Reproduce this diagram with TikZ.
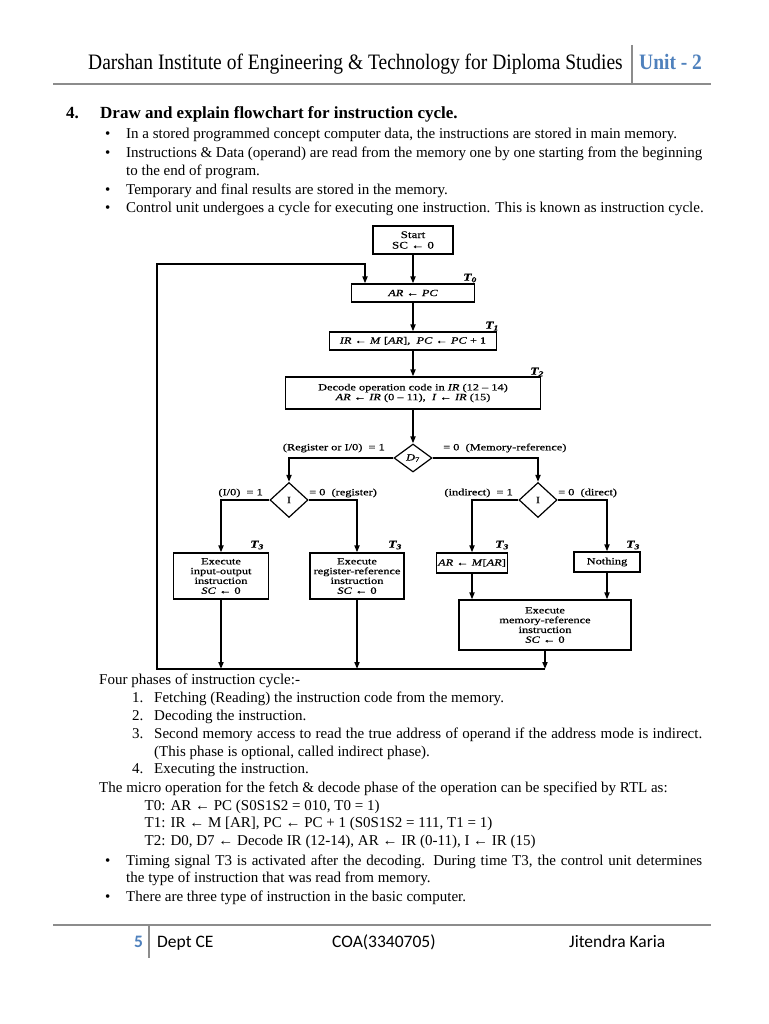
\documentclass[tikz,border=0pt]{standalone}
\usepackage{fontspec}
\setmainfont{Liberation Serif}
\newfontfamily\hdrfont[FakeStretch=0.886]{Liberation Serif}
\newfontfamily\ftrfont{Carlito}
\newfontfamily\figfont[FakeStretch=1.3,FakeBold=0.6]{Liberation Serif}
\usetikzlibrary{arrows.meta,shapes.geometric}
\definecolor{unitblue}{HTML}{4F81BD}
\definecolor{rulegray}{HTML}{8C8C8C}
\begin{document}
\begin{tikzpicture}[x=1pt,y=-1pt,
  body/.style={anchor=base west,inner sep=0,font=\fontsize{15}{18}\selectfont},
  fbox/.style={draw,line width=1.2pt,inner sep=0,align=center,font=\figfont\fontsize{9.5}{9.8}\selectfont},
  dia/.style={draw,diamond,line width=1.2pt,inner sep=0,font=\figfont\fontsize{9.5}{10}\selectfont},
  arr/.style={line width=1.7pt,-{Triangle[length=7pt,width=5pt]}},
  tlab/.style={font=\figfont\fontsize{10.5}{10}\selectfont\bfseries\itshape,inner sep=0},
  flab/.style={font=\figfont\fontsize{9.5}{10}\selectfont,inner sep=0},
  hdr/.style={anchor=base west,inner sep=0,font=\hdrfont\fontsize{22}{24}\selectfont},
  ftr/.style={anchor=base west,inner sep=0,font=\ftrfont\fontsize{17.5}{20}\selectfont}
]
\useasboundingbox[fill=white] (0,0) rectangle (768,1024);

% header
\node[hdr] (h1) at (88,70) {Darshan Institute of Engineering \& Technology for Diploma Studies};
\node[hdr,text=unitblue,font=\hdrfont\fontsize{22}{24}\selectfont\bfseries] (h2) at (639,70) {Unit - 2};
\draw[rulegray,line width=2pt] (53,84) -- (711,84);
\draw[rulegray,line width=1.2pt] (632,45) -- (632,84);

% title and bullets
\node[body,font=\fontsize{17}{18}\selectfont\bfseries] (n4) at (66,119) {4.};
\node[body,font=\fontsize{17}{18}\selectfont\bfseries] (title) at (100,119) {Draw and explain flowchart for instruction cycle.};
\node[body] (b1) at (105,139) {•};
\node[body] (b1t) at (126,139) {In a stored programmed concept computer data, the instructions are stored in main memory.};
\node[body] (b2) at (105,157.5) {•};
\node[body] (b2t) at (126,157.5) {\makebox[576pt][s]{Instructions \& Data (operand) are read from the memory one by one starting from the beginning}};
\node[body] (b2u) at (126,175.5) {to the end of program.};
\node[body] (b3) at (105,194.5) {•};
\node[body] (b3t) at (126,194.5) {Temporary and final results are stored in the memory.};
\node[body] (b4) at (105,212.5) {•};
\node[body] (b4t) at (126,212.5) {Control unit undergoes a cycle for executing one instruction. This is known as instruction cycle.};

% flowchart
\node[fbox,minimum width=80,minimum height=28,font=\figfont\fontsize{10}{10.5}\selectfont] (start) at (413,240) {Start\\SC ← 0};
\node[fbox,minimum width=123,minimum height=18] (pc) at (413,293) {\textit{AR} ← \textit{PC}};
\node[fbox,minimum width=167,minimum height=18] (ir) at (413,341) {\textit{IR} ← \textit{M} [\textit{AR}], \ \textit{PC} ← \textit{PC} + 1};
\node[fbox,minimum width=255,minimum height=32] (dec) at (413,393) {Decode operation code in \textit{IR} (12 – 14)\\\textit{AR} ← \textit{IR} (0 – 11), \ \textit{I} ← \textit{IR} (15)};
\node[dia,minimum width=38,minimum height=28] (d7) at (413,458) {\textit{D}\textsubscript{7}};
\node[dia,minimum width=38,minimum height=35] (i1) at (289,500) {I};
\node[dia,minimum width=38,minimum height=35] (i2) at (538,500) {I};
\node[fbox,minimum width=95,minimum height=46] (io) at (221,576) {Execute\\input-output\\instruction\\\textit{SC} ← 0};
\node[fbox,minimum width=94,minimum height=46] (rr) at (357,576) {Execute\\register-reference\\instruction\\\textit{SC} ← 0};
\node[fbox,minimum width=71,minimum height=20] (ind) at (472,563) {\textit{AR} ← \textit{M}[\textit{AR}]};
\node[fbox,minimum width=66,minimum height=20] (noth) at (607,562) {Nothing};
\node[fbox,minimum width=172,minimum height=50] (mem) at (545,625) {Execute\\memory-reference\\instruction\\\textit{SC} ← 0};

\node[tlab] (t0) at (470,278) {T\textsubscript{0}};
\node[tlab] (t1) at (492,326) {T\textsubscript{1}};
\node[tlab] (t2) at (537,372) {T\textsubscript{2}};
\node[tlab] (t3a) at (257,545) {T\textsubscript{3}};
\node[tlab] (t3b) at (395,545) {T\textsubscript{3}};
\node[tlab] (t3c) at (502,545) {T\textsubscript{3}};
\node[tlab] (t3d) at (633,545) {T\textsubscript{3}};

\node[flab,anchor=east] (l1) at (385,448) {(Register or I/0)\ \ = 1};
\node[flab,anchor=west] (l2) at (443,448) {= 0\ \ (Memory-reference)};
\node[flab,anchor=east] (l3) at (263,493) {(I/0)\ \ = 1};
\node[flab,anchor=west] (l4) at (309,493) {= 0\ \ (register)};
\node[flab,anchor=east] (l5) at (513,493) {(indirect)\ \ = 1};
\node[flab,anchor=west] (l6) at (558,493) {= 0\ \ (direct)};

\coordinate (bl) at (157,669);
\coordinate (tl) at (157,264);
\coordinate (lr) at (365,264);

\draw[arr] (start) -- (pc);
\draw[arr] (pc) -- (ir);
\draw[arr] (ir) -- (dec);
\draw[arr] (dec) -- (d7);
\draw[arr] (d7.west) -| (i1.north);
\draw[arr] (d7.east) -| (i2.north);
\draw[arr] (i1.west) -| (io.north);
\draw[arr] (i1.east) -| (rr.north);
\draw[arr] (i2.west) -| (ind.north);
\draw[arr] (i2.east) -| (noth.north);
\draw[arr] (ind) -- (ind |- mem.north);
\draw[arr] (noth) -- (noth |- mem.north);
\draw[arr] (io) -- (io |- bl);
\draw[arr] (rr) -- (rr |- bl);
\draw[arr] (mem) -- (mem |- bl);
\draw[arr] (mem |- bl) -- (bl) -- (tl) -- (lr) -- (lr |- pc.north);

% text below
\node[body] (p0) at (99,684.5) {Four phases of instruction cycle:-};
\node[body] (p1n) at (132,702.5) {1.};
\node[body] (p1) at (154,702.5) {Fetching (Reading) the instruction code from the memory.};
\node[body] (p2n) at (132,720.5) {2.};
\node[body] (p2) at (154,720.5) {Decoding the instruction.};
\node[body] (p3n) at (132,738.5) {3.};
\node[body] (p3) at (154,738.5) {\makebox[548pt][s]{Second memory access to read the true address of operand if the address mode is indirect.}};
\node[body] (p3b) at (154,756) {(This phase is optional, called indirect phase).};
\node[body] (p4n) at (132,773.5) {4.};
\node[body] (p4) at (154,773.5) {Executing the instruction.};
\node[body] (m0) at (99,792.5) {The micro operation for the fetch \& decode phase of the operation can be specified by RTL as:};
\node[body] (r0) at (144.5,810.5) {T0: AR ← PC (S0S1S2 = 010, T0 = 1)};
\node[body] (r1) at (144.5,827.5) {T1: IR ← M [AR], PC ← PC + 1 (S0S1S2 = 111, T1 = 1)};
\node[body] (r2) at (144.5,845.5) {T2: D0, D7 ← Decode IR (12-14), AR ← IR (0-11), I ← IR (15)};
\node[body] (c1) at (105,865.5) {•};
\node[body] (c1t) at (126,865.5) {\makebox[576pt][s]{Timing signal T3 is activated after the decoding. During time T3, the control unit determines}};
\node[body] (c1u) at (126,882.5) {the type of instruction that was read from memory.};
\node[body] (c2) at (105,901.5) {•};
\node[body] (c2t) at (126,901.5) {There are three type of instruction in the basic computer.};

% footer
\draw[rulegray,line width=2pt] (53,925) -- (711,925);
\draw[rulegray,line width=1.2pt] (149,925) -- (149,958);
\node[ftr,text=unitblue,font=\ftrfont\fontsize{17.5}{20}\selectfont\bfseries] (pg) at (134,947) {5};
\node[ftr] (f1) at (157,947) {Dept CE};
\node[ftr] (f2) at (332,947) {COA(3340705)};
\node[ftr] (f3) at (569,947) {Jitendra Karia};
\end{tikzpicture}
\end{document}
